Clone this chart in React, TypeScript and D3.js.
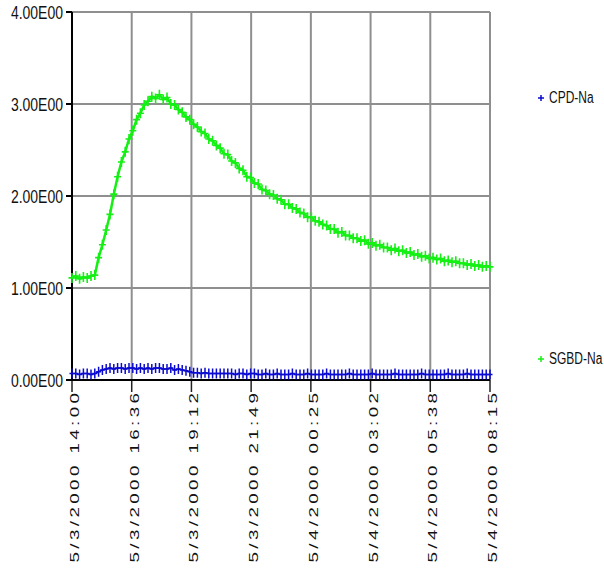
import React from "react";
import * as d3 from "d3";

const seriesNames = ["CPD-Na", "SGBD-Na"];
const startTime = new Date(2000, 4, 3, 14, 0);
const endTime = new Date(2000, 4, 4, 8, 15);
const xTickLabels = [
  "5/3/2000 14:00",
  "5/3/2000 16:36",
  "5/3/2000 19:12",
  "5/3/2000 21:49",
  "5/4/2000 00:25",
  "5/4/2000 03:02",
  "5/4/2000 05:38",
  "5/4/2000 08:15",
];
const yTicks = [0, 1, 2, 3, 4];
const yTickLabels = ["0.00E00", "1.00E00", "2.00E00", "3.00E00", "4.00E00"];

const sgbdNa = [
  1.11, 1.13, 1.10, 1.12, 1.11, 1.13, 1.14, 1.33, 1.47, 1.63,
  1.80, 2.02, 2.21, 2.37, 2.48, 2.62, 2.71, 2.83, 2.90, 2.99,
  3.03, 3.08, 3.06, 3.10, 3.05, 3.07, 3.00, 2.99, 2.94, 2.91,
  2.86, 2.83, 2.78, 2.75, 2.70, 2.68, 2.62, 2.60, 2.55, 2.52,
  2.46, 2.45, 2.38, 2.36, 2.30, 2.28, 2.21, 2.20, 2.14, 2.13,
  2.07, 2.06, 2.02, 2.01, 1.97, 1.96, 1.91, 1.91, 1.87, 1.86,
  1.82, 1.81, 1.77, 1.77, 1.73, 1.72, 1.69, 1.68, 1.64, 1.64,
  1.60, 1.61, 1.57, 1.57, 1.54, 1.54, 1.51, 1.52, 1.48, 1.49,
  1.46, 1.47, 1.44, 1.44, 1.41, 1.43, 1.40, 1.41, 1.38, 1.39,
  1.36, 1.37, 1.34, 1.35, 1.32, 1.33, 1.31, 1.32, 1.29, 1.30,
  1.28, 1.29, 1.27, 1.27, 1.25, 1.26, 1.24, 1.25, 1.23, 1.24, 1.23,
];

const cpdNa = [
  0.07, 0.07, 0.06, 0.07, 0.07, 0.06, 0.07, 0.09, 0.11, 0.12,
  0.13, 0.12, 0.13, 0.13, 0.12, 0.13, 0.13, 0.12, 0.13, 0.12,
  0.13, 0.12, 0.13, 0.13, 0.12, 0.12, 0.13, 0.11, 0.12, 0.11,
  0.10, 0.09, 0.08, 0.08, 0.07, 0.08, 0.07, 0.07, 0.07, 0.07,
  0.07, 0.07, 0.07, 0.06, 0.07, 0.07, 0.06, 0.07, 0.07, 0.06,
  0.06, 0.07, 0.06, 0.06, 0.07, 0.06, 0.06, 0.06, 0.07, 0.06,
  0.06, 0.06, 0.07, 0.06, 0.06, 0.06, 0.06, 0.07, 0.06, 0.06,
  0.06, 0.06, 0.06, 0.07, 0.06, 0.06, 0.06, 0.06, 0.06, 0.07,
  0.06, 0.06, 0.06, 0.06, 0.06, 0.07, 0.06, 0.06, 0.06, 0.06,
  0.06, 0.06, 0.07, 0.06, 0.06, 0.06, 0.06, 0.06, 0.06, 0.07,
  0.06, 0.06, 0.06, 0.06, 0.07, 0.06, 0.06, 0.06, 0.06, 0.06, 0.06,
];

const W = 604;
const H = 569;
const L = 72;
const R = 490;
const T = 12;
const B = 380;

const GREEN = "#14f014";
const BLUE = "#0a0ad0";
const GRID = "#8f8f8f";
const FONT = "'Liberation Sans', Arial, sans-serif";

export default function App() {
  const x = d3.scaleTime().domain([startTime, endTime]).range([L, R]);
  const y = d3.scaleLinear().domain([0, 4]).range([B, T]);
  const span = endTime.getTime() - startTime.getTime();
  const n = sgbdNa.length;
  const timeAt = (i: number) => new Date(startTime.getTime() + (span * i) / (n - 1));
  const tickTimes = xTickLabels.map(
    (_, k) => new Date(startTime.getTime() + (span * k) / (xTickLabels.length - 1))
  );

  const line = d3
    .line<number>()
    .x((_, i) => x(timeAt(i)))
    .y((d) => y(d));

  const plus = (cx: number, cy: number, hw: number, hh: number) =>
    `M${cx - hw},${cy}H${cx + hw}M${cx},${cy - hh}V${cy + hh}`;

  const greenMarks = sgbdNa.map((v, i) => plus(x(timeAt(i)), y(v), 3.5, 5)).join("");
  const blueMarks = cpdNa.map((v, i) => plus(x(timeAt(i)), y(v), 2.5, 5)).join("");

  return (
    <svg
      width={W}
      height={H}
      style={{ position: "absolute", left: 0, top: 0, background: "#fff" }}
    >
      <rect x={0} y={0} width={W} height={H} fill="#fff" />
      {yTicks.map((t) => (
        <line key={"hg" + t} x1={L} x2={R} y1={y(t)} y2={y(t)} stroke={GRID} strokeWidth={2} />
      ))}
      {tickTimes.map((t, k) => (
        <line
          key={"vg" + k}
          x1={x(t)}
          x2={x(t)}
          y1={T}
          y2={B}
          stroke={k === 0 ? "#000" : GRID}
          strokeWidth={2}
        />
      ))}
      {tickTimes.map((t, k) => (
        <line key={"xt" + k} x1={x(t)} x2={x(t)} y1={B} y2={B + 12} stroke="#222" strokeWidth={1.5} />
      ))}
      <line x1={L} x2={L} y1={T} y2={B} stroke="#000" strokeWidth={2} />
      <line x1={L} x2={R} y1={B} y2={B} stroke="#000" strokeWidth={2} />
      {yTicks.map((t) => (
        <line key={"yt" + t} x1={L - 6} x2={L} y1={y(t)} y2={y(t)} stroke="#000" strokeWidth={2} />
      ))}
      {yTicks.map((t, k) => (
        <text
          key={"yl" + t}
          transform={`translate(${L - 9},${y(t) + 6.5}) scale(1,1.28)`}
          textAnchor="end"
          fontFamily={FONT}
          fontSize={14}
          fill="#111"
        >
          {yTickLabels[k]}
        </text>
      ))}
      {tickTimes.map((t, k) => (
        <text
          key={"xl" + k}
          transform={`translate(${x(t) + 7},${B + 13}) rotate(-90) scale(1.5,1)`}
          textAnchor="end"
          fontFamily={FONT}
          fontSize={12.5}
          fill="#111"
          textLength={113}
          lengthAdjust="spacing"
        >
          {xTickLabels[k]}
        </text>
      ))}
      <path d={line(sgbdNa) || ""} fill="none" stroke={GREEN} strokeWidth={2.5} />
      <path d={greenMarks} fill="none" stroke={GREEN} strokeWidth={1.6} />
      <path d={line(cpdNa) || ""} fill="none" stroke={BLUE} strokeWidth={1.5} />
      <path d={blueMarks} fill="none" stroke={BLUE} strokeWidth={1.5} />
      <path d={plus(541, 98, 3, 3)} stroke={BLUE} strokeWidth={1.5} fill="none" />
      <text
        transform={`translate(549,103) scale(1,1.3)`}
        fontFamily={FONT}
        fontSize={12}
        fill="#111"
      >
        {seriesNames[0]}
      </text>
      <path d={plus(541, 359, 3, 3)} stroke={GREEN} strokeWidth={1.5} fill="none" />
      <text
        transform={`translate(549,364) scale(1,1.3)`}
        fontFamily={FONT}
        fontSize={12}
        fill="#111"
      >
        {seriesNames[1]}
      </text>
    </svg>
  );
}
